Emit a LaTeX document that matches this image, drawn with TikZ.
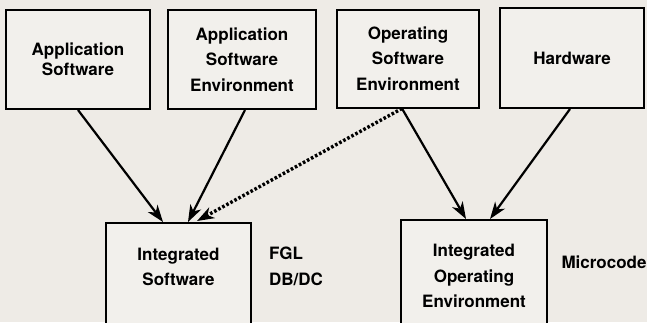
\documentclass[tikz,border=0pt]{standalone}
\usepackage{fontspec}
\setmainfont{TeX Gyre Heros}
\usetikzlibrary{arrows.meta}
\definecolor{paper}{RGB}{238,235,230}
\definecolor{boxfill}{RGB}{242,240,236}
\begin{document}
\begin{tikzpicture}[x=0.5pt,y=-0.5pt,
	box/.style={draw,line width=1pt,fill=boxfill,align=center,inner sep=0pt,
		font=\fontsize{8.5}{12.7}\selectfont\bfseries},
	lbl/.style={font=\fontsize{8.5}{12.7}\selectfont\bfseries,inner sep=0pt,align=center},
	arr/.style={line width=1.1pt,-{Stealth[length=8.5pt,width=6pt,inset=2.5pt]}},
	dots/.style={arr,line width=1.7pt,dash pattern=on 1.3pt off 1pt}]
	\fill[paper] (0,0) rectangle (647,322);
	\clip (0,0) rectangle (647,322);
	\path 
		(78,59.5) node[box,minimum width=72pt,minimum height=49.5pt,
			font=\fontsize{8.5}{10}\selectfont\bfseries] (appsw) {Application\\Software}
		(242,59.5) node[box,minimum width=74pt,minimum height=49.5pt] (appenv) {Application\\Software\\Environment}
		(408,58.5) node[box,minimum width=71pt,minimum height=49pt] (openv) {Operating\\Software\\Environment}
		(572,58) node[box,minimum width=72pt,minimum height=50pt] (hw) {Hardware}
		(178.5,222) node[box,anchor=north,minimum width=72.5pt,minimum height=58pt] (intsw) {}
		(178.5,267) node[lbl] (intswtext) {Integrated\\Software}
		(474,276) node[box,minimum width=73pt,minimum height=56pt] (intenv) {Integrated\\Operating\\Environment}
		(286,253) node[lbl] (fgl) {FGL}
		(296,279) node[lbl] (dbdc) {DB/DC}
		(604,262) node[lbl] (micro) {Microcode}
		;
	\draw[arr] (appsw.south) -- ([xshift=-7.75pt]intsw.north);
	\draw[arr] ([xshift=1.5pt]appenv.south) -- ([xshift=4.75pt]intsw.north);
	\draw[arr] ([xshift=-3pt]openv.south) -- ([xshift=-4pt]intenv.north);
	\draw[arr] ([xshift=-1pt]hw.south) -- ([xshift=8pt]intenv.north);
	\draw[dots] ([xshift=-3pt]openv.south) -- ([xshift=9.25pt,yshift=0.5pt]intsw.north);
\end{tikzpicture}
\end{document}
